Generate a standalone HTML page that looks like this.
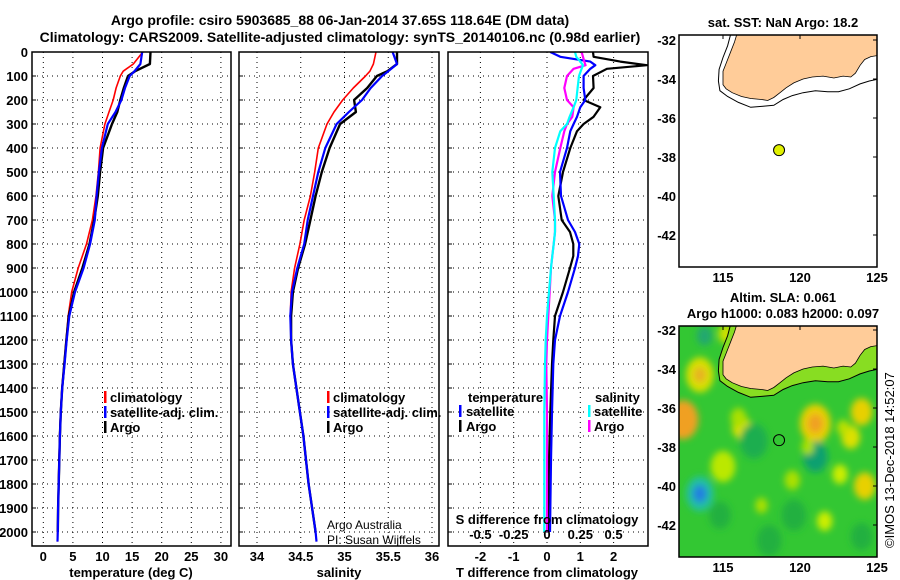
<!DOCTYPE html>
<html><head><meta charset="utf-8">
<style>
html,body{margin:0;padding:0;background:#fff;}
svg{display:block;font-family:"Liberation Sans",sans-serif;}
.b{font-weight:bold;font-size:13px;}
.t{font-weight:bold;font-size:14px;}
</style></head>
<body>
<svg id="chart" width="900" height="580" viewBox="0 0 900 580">
<defs>
<clipPath id="cp1"><rect x="32" y="52" width="199" height="494"/></clipPath>
<clipPath id="cp2"><rect x="239" y="52" width="200" height="494"/></clipPath>
<clipPath id="cp3"><rect x="448" y="52" width="200" height="494"/></clipPath>
<clipPath id="cm1"><rect x="679" y="35" width="198" height="232"/></clipPath>
<clipPath id="cm2"><rect x="679" y="326" width="198" height="231"/></clipPath>
<filter id="blur" x="-50%" y="-50%" width="200%" height="200%"><feGaussianBlur stdDeviation="3.5"/></filter>
</defs>
<text class="t" x="340" y="25" text-anchor="middle">Argo profile: csiro 5903685_88 06-Jan-2014 37.65S 118.64E (DM data)</text>
<text class="t" x="340" y="42" text-anchor="middle">Climatology: CARS2009. Satellite-adjusted climatology: synTS_20140106.nc (0.98d earlier)</text>
<g id="g1"></g>
<g id="g2"></g>
<g id="g3"></g>
<g id="gm1"></g>
<g id="gm2"></g>
<text x="327" y="529" font-size="12">Argo Australia</text>
<text x="327" y="544" font-size="12">PI: Susan Wijffels</text>
<text font-size="13" transform="translate(894,548) rotate(-90)">©IMOS 13-Dec-2018 14:52:07</text>
</svg>
<script>
const depthsP = [0,50,80,100,150,200,250,300,400,500,600,700,800,900,1000,1100,1200,1300,1400,1500,1600,1700,1800,1900,2000,2040];
const argoT = [18.1,18.0,15.5,14.3,13.6,13.0,12.5,11.6,10.1,9.6,9.2,8.6,7.8,6.6,5.2,4.3,3.9,3.55,3.2,2.95,2.8,2.7,2.6,2.5,2.45,null];
const satT  = [16.7,16.4,15.4,14.6,13.8,13.2,12.2,10.9,9.9,9.4,9.0,8.7,7.9,6.8,5.35,4.4,3.95,3.6,3.2,2.95,2.8,2.7,2.6,2.5,2.45,2.4];
const climT = [16.8,15.2,13.5,13.0,12.3,11.8,11.1,10.4,9.6,9.3,8.9,8.3,7.3,5.9,4.8,4.2,3.85,3.5,3.15,2.9,2.75,2.65,2.55,2.5,2.4,2.4];
const argoS = [35.6,35.6,35.49,35.37,35.26,35.11,35.13,34.95,34.83,34.74,34.67,34.61,34.55,34.47,34.41,34.39,34.39,34.41,34.45,34.49,34.53,34.56,34.59,34.63,34.67,null];
const satS  = [35.55,35.6,35.5,35.43,35.3,35.2,35.05,34.91,34.78,34.7,34.64,34.58,34.54,34.46,34.4,34.38,34.39,34.41,34.45,34.49,34.53,34.56,34.59,34.63,34.67,34.68];
const climS = [35.36,35.33,35.29,35.24,35.1,34.98,34.88,34.8,34.7,34.66,34.61,34.54,34.49,34.43,34.39,34.38,34.39,34.41,34.45,34.49,34.53,34.56,34.59,34.63,34.67,34.68];
const depthsD = [0,20,40,55,70,100,150,200,230,270,300,330,400,500,600,700,750,800,850,900,1000,1100,1200,1300,1500,1700,2000];
const argoDT = [1.38,1.4,2.2,3.0,1.8,1.38,1.4,1.1,1.6,1.4,1.1,0.9,0.7,0.48,0.34,0.44,0.69,0.79,0.79,0.69,0.48,0.24,0.19,0.15,0.1,0.06,0.03];
const satDT  = [0.1,0.4,1.3,1.45,1.3,1.1,1.1,1.15,1.0,0.9,0.8,0.7,0.6,0.39,0.42,0.63,0.84,0.97,0.93,0.84,0.63,0.39,0.24,0.19,0.15,0.12,0.09];
const argoDS = [0.26,0.27,0.28,0.29,0.2,0.15,0.13,0.15,0.2,0.19,0.15,0.13,0.1,0.06,0.04,0.06,0.06,0.05,0.04,0.03,0.02,0.01,0.0,-0.005,0.0,0.0,0.0];
const satDS  = [0.21,0.22,0.25,0.27,0.26,0.24,0.23,0.22,0.2,0.17,0.15,0.1,0.06,0.04,0.05,0.06,0.06,0.05,0.04,0.03,0.015,0.0,-0.01,-0.015,-0.02,-0.02,-0.02];
const depthTicks = [0,100,200,300,400,500,600,700,800,900,1000,1100,1200,1300,1400,1500,1600,1700,1800,1900,2000];
const tempTicks = [0,5,10,15,20,25,30];
const salTicks = [34,34.5,35,35.5,36];
const dTTicks = [-2,-1,0,1,2];
const dSTicks = [-0.5,-0.25,0,0.25,0.5];
const dSTickLabels = ["-0.5","-0.25","0","0.25","0.5"];
const latTicks = [-32,-34,-36,-38,-40,-42];
const lonTicks = [115,120,125];
const argoLon = 118.64, argoLat = -37.65;
const coastLon = [115.9,115.75,115.5,115.2,115.0,115.0,115.2,115.6,116.2,116.8,117.5,117.9,118.3,118.7,119.1,119.6,120.2,120.8,121.5,122.2,122.8,123.3,123.6,123.9,124.2,124.6,125.0,125.1,125.1];
const coastLat = [-31.7,-32.1,-32.6,-33.2,-33.6,-34.3,-34.5,-34.7,-34.9,-35.0,-35.05,-35.1,-34.95,-34.7,-34.45,-34.2,-34.0,-33.9,-33.85,-33.95,-33.85,-33.9,-33.7,-33.3,-33.0,-32.85,-32.8,-32.8,-31.7];
const shelfLon = [115.5,115.3,115.0,114.75,114.7,114.8,115.3,116.0,116.8,117.6,118.3,118.9,119.5,120.2,121.0,121.8,122.5,123.2,123.9,124.5,125.1];
const shelfLat = [-31.7,-32.3,-32.9,-33.5,-34.1,-34.6,-34.9,-35.2,-35.45,-35.4,-35.35,-35.05,-34.85,-34.7,-34.6,-34.65,-34.65,-34.5,-34.25,-34.1,-34.0];
const slaLon = [112.4,113.5,113.5,113.8,115.2,116.2,117.0,115.0,113.5,113.5,121.0,121.0,121.0,124.0,123.3,124.2,122.6,121.6,117.5,119.6,118.0,124.0,119.5,116.0,114.8,120.5,122.8];
const slaLat = [-36.6,-34.3,-34.3,-32.3,-32.2,-37.0,-37.7,-39.0,-40.4,-40.4,-36.8,-36.8,-38.5,-36.2,-37.5,-40.0,-39.4,-41.8,-41.0,-41.5,-42.8,-42.6,-39.7,-36.5,-41.5,-38.0,-37.0];
const slaR = [1.0,0.9,0.4,0.5,0.5,0.6,0.9,0.8,0.9,0.45,1.0,0.5,0.8,0.7,0.6,0.7,0.5,0.5,0.4,0.8,0.8,0.7,0.5,0.5,0.7,0.4,0.4];
const slaC = ["#f0a020","#d8e000","#e8b020","#20a870","#cce000","#dde000","#1fae50","#bbe800","#20c0a0","#2080e0","#e8d000","#f0a020","#10a070","#e8d000","#dde000","#e8d000","#ccee00","#ccee00","#aae000","#20b040","#22b040","#22b040","#aae000","#aae000","#22b040","#aae000","#bbe000"];

const NS="http://www.w3.org/2000/svg";
function mk(parent,tag,attrs){const e=document.createElementNS(NS,tag);for(const k in attrs)e.setAttribute(k,attrs[k]);parent.appendChild(e);return e;}
const yD=d=>52+d*0.24;
const xTemp=v=>43.3+v*5.92;
const xSal=v=>257+(v-34)*87.5;
const xDT=v=>547+v*33.3;
const xDS=v=>547+v*133.2;

function frame(g,x,w,name){
  const r=mk(g,'rect',{x:x,y:52,width:w,height:494,fill:'none',stroke:'#000','stroke-width':1.5});
  
  
}
function hgrid(g,x,w){
  depthTicks.forEach(d=>{
    if(d===0)return;
    const l=mk(g,'line',{x1:x,x2:x+w,y1:yD(d),y2:yD(d),stroke:'#000','stroke-dasharray':'1,4'});
    
    
    const tk=mk(g,'line',{x1:x,x2:x+4,y1:yD(d),y2:yD(d),stroke:'#000'});
    
    
  });
}
function vgrid(g,ticks,xf){
  ticks.forEach(v=>{
    const l=mk(g,'line',{x1:xf(v),x2:xf(v),y1:52,y2:546,stroke:'#000','stroke-dasharray':'1,4'});
    
    
  });
}
function series(g,vals,depths,xf,color,w,clip,name){
  let d='';let started=false;
  vals.forEach((v,i)=>{if(v===null)return;d+=(started?'L':'M')+xf(v).toFixed(1)+','+yD(depths[i]).toFixed(1);started=true;});
  const p=mk(g,'path',{d:d,fill:'none',stroke:color,'stroke-width':w,'clip-path':'url(#'+clip+')','stroke-linejoin':'round'});
  
  
}
function txt(g,x,y,s,anchor,cls,name,fill){
  const t=mk(g,'text',{x:x,y:y,'text-anchor':anchor||'start',class:cls||'b',fill:fill||'#000'});
  t.textContent=s;
  
  
  return t;
}
function legendBar(g,x,y,color){
  const r=mk(g,'rect',{x:x,y:y-11,width:2.5,height:12,fill:color});
  
  
}

// Panel 1
const g1=document.getElementById('g1');
vgrid(g1,tempTicks,xTemp);hgrid(g1,32,199);
series(g1,climT,depthsP,xTemp,'#f00',1.6,'cp1','series-climatology-temperature');
series(g1,argoT,depthsP,xTemp,'#000',2.4,'cp1','series-argo-temperature');
series(g1,satT,depthsP,xTemp,'#00f',2.2,'cp1','series-satellite-temperature');
frame(g1,32,199,'temperature-plot-frame');
depthTicks.forEach(d=>txt(g1,28,yD(d)+5,String(d),'end','b','depth-tick-label'));
tempTicks.forEach(v=>txt(g1,xTemp(v),561,String(v),'middle','b','temperature-tick-label'));
txt(g1,131,577,'temperature (deg C)','middle','b','temperature-axis-title');
[['climatology','#f00'],['satellite-adj. clim.','#00f'],['Argo','#000']].forEach((e,i)=>{legendBar(g1,104,402+i*15,e[1]);txt(g1,110,402+i*15,e[0],'start','b','legend-entry');});

// Panel 2
const g2=document.getElementById('g2');
vgrid(g2,salTicks,xSal);hgrid(g2,239,200);
series(g2,climS,depthsP,xSal,'#f00',1.6,'cp2','series-climatology-salinity');
series(g2,argoS,depthsP,xSal,'#000',2.4,'cp2','series-argo-salinity');
series(g2,satS,depthsP,xSal,'#00f',2.2,'cp2','series-satellite-salinity');
frame(g2,239,200,'salinity-plot-frame');
salTicks.forEach(v=>txt(g2,xSal(v),561,String(v),'middle','b','salinity-tick-label'));
txt(g2,339,577,'salinity','middle','b','salinity-axis-title');
[['climatology','#f00'],['satellite-adj. clim.','#00f'],['Argo','#000']].forEach((e,i)=>{legendBar(g2,327,402+i*15,e[1]);txt(g2,333,402+i*15,e[0],'start','b','legend-entry');});

// Panel 3
const g3=document.getElementById('g3');
vgrid(g3,dTTicks,xDT);hgrid(g3,448,200);
series(g3,argoDT,depthsD,xDT,'#000',2.2,'cp3','series-argo-temperature-difference');
series(g3,satDT,depthsD,xDT,'#00f',2.2,'cp3','series-satellite-temperature-difference');
series(g3,argoDS,depthsD,xDS,'#f0f',2.2,'cp3','series-argo-salinity-difference');
series(g3,satDS,depthsD,xDS,'#0ff',2.2,'cp3','series-satellite-salinity-difference');
frame(g3,448,200,'difference-plot-frame');
dTTicks.forEach(v=>txt(g3,xDT(v),561,String(v),'middle','b','t-difference-tick-label'));
dSTicks.forEach((v,i)=>txt(g3,xDS(v),539,dSTickLabels[i],'middle','b','s-difference-tick-label'));
txt(g3,547,524,'S difference from climatology','middle','b','s-difference-axis-title');
txt(g3,547,577,'T difference from climatology','middle','b','t-difference-axis-title');
txt(g3,468,402,'temperature','start','b','legend-temperature-heading');
txt(g3,595,402,'salinity','start','b','legend-salinity-heading');
[['satellite','#00f'],['Argo','#000']].forEach((e,i)=>{legendBar(g3,459,416+i*15,e[1]);txt(g3,466,416+i*15,e[0],'start','b','legend-entry');});
[['satellite','#0ff'],['Argo','#f0f']].forEach((e,i)=>{legendBar(g3,588,416+i*15,e[1]);txt(g3,594,416+i*15,e[0],'start','b','legend-entry');});

// Maps
function buildMap(g,top,lat0y,clip,sla){
  const xL=v=>723+(v-115)*15.4;
  const yL=v=>lat0y+(-32-v)*19.5;
  const h=(clip==='cm1'?232:231);
  mk(g,'rect',{x:679,y:top,width:198,height:h,fill:sla?'#33c733':'#fff'});
  if(sla){
    const bg=mk(g,'g',{'clip-path':'url(#'+clip+')',filter:'url(#blur)'});
    slaLon.forEach((lo,i)=>{
      const c=mk(bg,'ellipse',{cx:xL(lo),cy:yL(slaLat[i]),rx:slaR[i]*15.4,ry:slaR[i]*19.5,fill:slaC[i]});
      
      
    });
  }
  const cg=mk(g,'g',{'clip-path':'url(#'+clip+')'});
  let sp=shelfLon.map((lo,i)=>(i?'L':'M')+xL(lo).toFixed(1)+','+yL(shelfLat[i]).toFixed(1)).join('');
  if(sla){
    const coast=mk(cg,'path',{d:sp+'L'+xL(125.1)+','+yL(-31.7)+'Z',fill:'#88dd22',stroke:'none'});
    
    
  }
  const shelf=mk(cg,'path',{d:sp,fill:'none',stroke:'#000','stroke-width':1});
  
  
  const lp=coastLon.map((lo,i)=>(i?'L':'M')+xL(lo).toFixed(1)+','+yL(coastLat[i]).toFixed(1)).join('')+'Z';
  const land=mk(cg,'path',{d:lp,fill:'#ffcc99',stroke:'#000','stroke-width':0.8});
  
  
  const f=mk(g,'rect',{x:679,y:top,width:198,height:h,fill:'none',stroke:'#000','stroke-width':1.5});
  
  
  const pt=mk(g,'circle',{cx:xL(argoLon),cy:yL(argoLat),r:5.5,fill:sla?'none':'#e0f000',stroke:'#000','stroke-width':1});
  
  
  latTicks.forEach(v=>{
    txt(g,676,yL(v)+5,String(v),'end','b','latitude-tick-label');
    const t=mk(g,'line',{x1:873,x2:877,y1:yL(v),y2:yL(v),stroke:'#000'});
    
    
  });
  const bottom=top+h;
  lonTicks.forEach(v=>{
    txt(g,xL(v),bottom+15,String(v),'middle','b','longitude-tick-label');
    const t=mk(g,'line',{x1:xL(v),x2:xL(v),y1:top,y2:top+4,stroke:'#000'});
    
    
  });
}
const gm1=document.getElementById('gm1');
buildMap(gm1,35,40,'cm1',false);
txt(gm1,783,27,'sat. SST: NaN Argo: 18.2','middle','b','sst-map-title');
const gm2=document.getElementById('gm2');
buildMap(gm2,326,330,'cm2',true);
txt(gm2,783,302,'Altim. SLA: 0.061','middle','b','sla-map-title');
txt(gm2,783,318,'Argo h1000: 0.083 h2000: 0.097','middle','b','sla-map-subtitle');
</script>
</body></html>
